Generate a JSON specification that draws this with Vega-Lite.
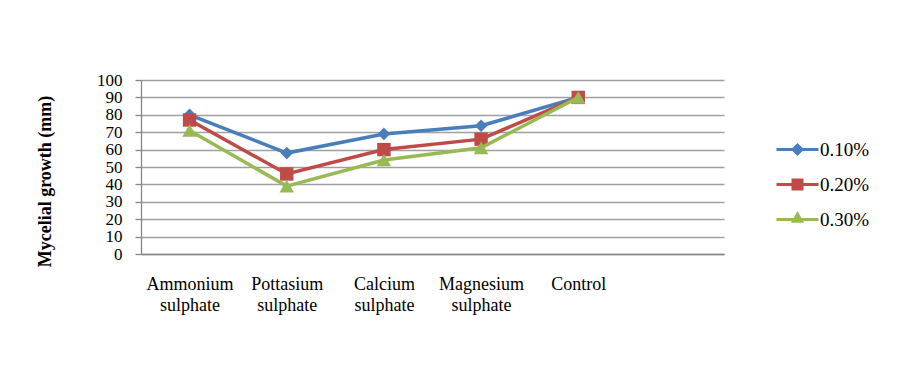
{
  "$schema": "https://vega.github.io/schema/vega-lite/v6.json",
  "width": 583,
  "height": 174,
  "autosize": {"type": "none"},
  "padding": {"left": 141, "top": 80, "right": 176, "bottom": 137},
  "background": "white",
  "config": {
    "font": "Liberation Serif",
    "view": {"stroke": null}
  },
  "data": {
    "values": [
      {"material": "Ammonium sulphate", "series": "0.10%", "value": 80},
      {"material": "Pottasium sulphate", "series": "0.10%", "value": 58},
      {"material": "Calcium sulphate", "series": "0.10%", "value": 69},
      {"material": "Magnesium sulphate", "series": "0.10%", "value": 73.7},
      {"material": "Control", "series": "0.10%", "value": 90},
      {"material": "Ammonium sulphate", "series": "0.20%", "value": 77},
      {"material": "Pottasium sulphate", "series": "0.20%", "value": 46},
      {"material": "Calcium sulphate", "series": "0.20%", "value": 60},
      {"material": "Magnesium sulphate", "series": "0.20%", "value": 66},
      {"material": "Control", "series": "0.20%", "value": 90},
      {"material": "Ammonium sulphate", "series": "0.30%", "value": 71},
      {"material": "Pottasium sulphate", "series": "0.30%", "value": 39},
      {"material": "Calcium sulphate", "series": "0.30%", "value": 54},
      {"material": "Magnesium sulphate", "series": "0.30%", "value": 61},
      {"material": "Control", "series": "0.30%", "value": 90}
    ]
  },
  "encoding": {
    "x": {
      "field": "material",
      "type": "nominal",
      "sort": null,
      "scale": {
        "type": "point",
        "padding": 0.5,
        "domain": ["Ammonium sulphate", "Pottasium sulphate", "Calcium sulphate", "Magnesium sulphate", "Control", "-"]
      },
      "axis": {
        "title": null,
        "ticks": false,
        "grid": false,
        "domainColor": "#868686",
        "domainWidth": 1.3,
        "labelAngle": 0,
        "labelFont": "Liberation Serif",
        "labelFontSize": 18,
        "labelColor": "black",
        "labelPadding": 21,
        "labelLineHeight": 21,
        "labelOverlap": false,
        "labelExpr": "datum.label == '-' ? '' : split(datum.label, ' ')"
      }
    },
    "y": {
      "field": "value",
      "type": "quantitative",
      "scale": {"domain": [0, 100], "nice": false},
      "axis": {
        "values": [0, 10, 20, 30, 40, 50, 60, 70, 80, 90, 100],
        "labelOverlap": false,
        "title": "Mycelial growth (mm)",
        "titleFont": "Liberation Serif",
        "titleFontSize": 18,
        "titleFontWeight": "bold",
        "titleColor": "black",
        "titleAngle": -90,
        "titleX": -96,
        "titleY": 101,
        "titleAlign": "center",
        "titleBaseline": "middle",
        "labelFont": "Liberation Serif",
        "labelFontSize": 17,
        "labelColor": "black",
        "labelPadding": 13,
        "tickSize": 6,
        "tickColor": "#868686",
        "tickWidth": 1.3,
        "domainColor": "#868686",
        "domainWidth": 1.3,
        "gridColor": "#a0a0a0",
        "gridWidth": 1.3
      }
    }
  },
  "layer": [
    {
      "transform": [{"filter": "datum.series == '0.10%'"}],
      "mark": {"type": "line", "strokeWidth": 3.5, "color": "#4A7EBB"},
      "encoding": {}
    },
    {
      "transform": [{"filter": "datum.series == '0.10%'"}],
      "mark": {"type": "point", "shape": "diamond", "filled": true, "size": 160, "opacity": 1, "color": "#4A7EBB"},
      "encoding": {}
    },
    {
      "transform": [{"filter": "datum.series == '0.20%'"}],
      "mark": {"type": "line", "strokeWidth": 3.5, "color": "#BE4B48"},
      "encoding": {}
    },
    {
      "transform": [{"filter": "datum.series == '0.20%'"}],
      "mark": {"type": "point", "shape": "square", "filled": true, "size": 180, "opacity": 1, "color": "#BE4B48"},
      "encoding": {}
    },
    {
      "transform": [{"filter": "datum.series == '0.30%'"}],
      "mark": {"type": "line", "strokeWidth": 3.5, "color": "#98B954"},
      "encoding": {}
    },
    {
      "transform": [{"filter": "datum.series == '0.30%'"}],
      "mark": {"type": "point", "shape": "triangle-up", "filled": true, "size": 210, "opacity": 1, "color": "#98B954"},
      "encoding": {}
    },
    {
      "mark": {"type": "point", "filled": true, "size": 144, "opacity": 0},
      "encoding": {
        "color": {
          "field": "series",
          "type": "nominal",
          "scale": {"domain": ["0.10%", "0.20%", "0.30%"], "range": ["#4A7EBB", "#BE4B48", "#98B954"]},
          "legend": {
            "title": null,
            "orient": "none",
            "legendX": 647,
            "legendY": 60,
            "padding": 0,
            "symbolOpacity": 1,
            "symbolSize": 144,
            "symbolStrokeWidth": 0,
            "labelFont": "Liberation Serif",
            "labelFontSize": 19,
            "labelColor": "black",
            "labelOffset": 13,
            "rowPadding": 15
          }
        },
        "shape": {
          "field": "series",
          "type": "nominal",
          "scale": {
            "domain": ["0.10%", "0.20%", "0.30%"],
            "range": [
              "M-3.5,-0.25H3.5V0.25H-3.5Z M0,-1.1L1.1,0L0,1.1L-1.1,0Z",
              "M-3.5,-0.25H3.5V0.25H-3.5Z M-1,-1H1V1H-1Z",
              "M-3.5,-0.25H3.5V0.25H-3.5Z M0,-1.4L1.1,0.55L-1.1,0.55Z"
            ]
          },
          "legend": {
            "title": null,
            "orient": "none",
            "legendX": 647,
            "legendY": 60,
            "padding": 0,
            "symbolOpacity": 1,
            "symbolSize": 144,
            "symbolStrokeWidth": 0,
            "labelFont": "Liberation Serif",
            "labelFontSize": 19,
            "labelColor": "black",
            "labelOffset": 13,
            "rowPadding": 15
          }
        }
      }
    }
  ]
}
